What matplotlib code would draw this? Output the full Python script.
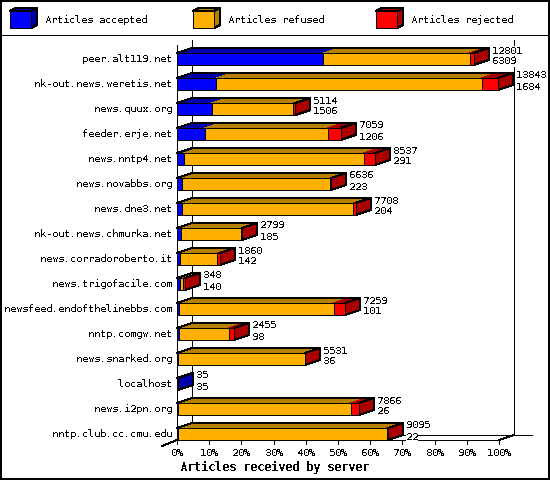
import matplotlib
matplotlib.use('Agg')
import matplotlib.pyplot as plt
from matplotlib.patches import Polygon, Rectangle

plt.rcParams['font.family'] = ['DejaVu Sans Mono']
plt.rcParams['text.antialiased'] = False
plt.rcParams['text.hinting'] = 'native'
plt.rcParams['text.hinting_factor'] = 1

servers = ['peer.alt119.net', 'nk-out.news.weretis.net', 'news.quux.org', 'feeder.erje.net',
           'news.nntp4.net', 'news.novabbs.org', 'news.dne3.net', 'nk-out.news.chmurka.net',
           'news.corradoroberto.it', 'news.trigofacile.com', 'newsfeed.endofthelinebbs.com',
           'nntp.comgw.net', 'news.snarked.org', 'localhost', 'news.i2pn.org', 'nntp.club.cc.cmu.edu']
totals = [12801, 13843, 5114, 7059, 8537, 6636, 7708, 2799, 1860, 348, 7259, 2455, 5531, 35, 7866, 9095]
accepted = [6309, 1684, 1506, 1206, 291, 223, 204, 185, 142, 140, 101, 98, 36, 35, 26, 22]
refused = [6322, 11469, 3518, 5307, 7773, 6393, 7404, 2594, 1588, 140, 6668, 2142, 5480, 0, 7475, 9043]
rejected = [170, 690, 90, 546, 473, 20, 100, 20, 130, 68, 490, 215, 15, 0, 365, 30]
percent_ticks = list(range(0, 101, 10))
# the 100% mark sits a little past the biggest bar
percent_base = 13900

W, H = 550, 480
# pixel layout of the plot box
LEFT, RIGHT, TOP, BOTTOM = 177, 499, 35, 440
ROW = 25
BAR_H = 12
DX_PX, DY_PX = 15, 5
FS = 7.2

fig = plt.figure(figsize=(W / 100, H / 100), dpi=100)

# overlay in pixels for frame and legend
ov = fig.add_axes([0, 0, 1, 1], zorder=5)
ov.set_xlim(0, W)
ov.set_ylim(H, 0)
ov.axis('off')
ov.patch.set_alpha(0)

ax = fig.add_axes([LEFT / W, 1 - BOTTOM / H, (RIGHT - LEFT) / W, (BOTTOM - TOP) / H], zorder=2)
ax.axis('off')
ax.set_xlim(0, 100)
ax.set_ylim(15 + (BOTTOM - 434) / ROW, (TOP - 59) / ROW)

dx = DX_PX * 100 / (RIGHT - LEFT)
dy = DY_PX / ROW
h = BAR_H / ROW
px_x = 100 / (RIGHT - LEFT)
px_y = 1 / ROW
line = dict(color='black', lw=0.72, antialiased=False, clip_on=False)
floor_y = ax.get_ylim()[0]
top_y = ax.get_ylim()[1] + 5 * px_y

# walls and floor
ax.plot([0, 0], [top_y + 5 * px_y, floor_y + 4 * px_y], zorder=1, **line)
ax.plot([dx, dx], [top_y, floor_y - dy], zorder=1, **line)
ax.plot([100 + dx, 100 + dx], [top_y, floor_y - dy], zorder=1, **line)
ax.plot([0, 100], [floor_y, floor_y], zorder=1, **line)
ax.plot([dx, 100 + dx + 18 * px_x], [floor_y - dy, floor_y - dy], zorder=1, **line)
ax.plot([0, -dx], [floor_y, floor_y + 6 * px_y], zorder=1, **line)
ax.plot([100, 100 + dx], [floor_y, floor_y - dy], zorder=1, **line)
for p in percent_ticks:
    ax.plot([p, p], [floor_y, floor_y + 4 * px_y], zorder=1, **line)
    ax.text(p, floor_y + 13 * px_y, f'{p}%', ha='center', va='center', fontsize=FS, zorder=4)

colors = [('#0000ff', '#0000aa'), ('#ffb000', '#b88000'), ('#ff0000', '#aa0000')]
edge = dict(edgecolor='black', linewidth=0.72, antialiased=False, clip_on=False)
fill = dict(edgecolor='none', antialiased=False, clip_on=False)

for i, name in enumerate(servers):
    left = 0
    y0, y1 = i - h / 2, i + h / 2
    bar_end = totals[i] / percent_base * 100
    last = None
    # top faces first, without lines between the segments
    for vals, (front, dark) in zip((accepted, refused, rejected), colors):
        v = vals[i] / percent_base * 100
        if v == 0:
            continue
        ax.add_patch(Polygon([(left, y0), (left + dx, y0 - dy), (left + v + dx, y0 - dy), (left + v, y0)],
                             facecolor=dark, zorder=2, **fill))
        left += v
        last = dark
    ax.add_patch(Polygon([(bar_end, y0), (bar_end + dx, y0 - dy), (bar_end + dx, y1 - dy), (bar_end, y1)],
                         facecolor=last, zorder=2, **edge))
    ax.plot([0, dx, bar_end + dx], [y0, y0 - dy, y0 - dy], zorder=2, **line)
    left = 0
    for vals, (front, dark) in zip((accepted, refused, rejected), colors):
        v = vals[i] / percent_base * 100
        if v == 0:
            continue
        ax.barh(i, v, height=h, left=left, color=front, zorder=2, **edge)
        left += v
    end = bar_end + dx + 3 * px_x
    box = dict(facecolor='white', edgecolor='none', pad=0)
    ax.text(end, i - 8.5 * px_y, str(totals[i]), ha='left', va='center', fontsize=FS, zorder=4, bbox=box)
    ax.text(end, i + 2.5 * px_y, str(accepted[i]), ha='left', va='center', fontsize=FS, zorder=4, bbox=box)
    ax.text(-5 * px_x, i, name, ha='right', va='center', fontsize=FS, zorder=4)

# frame and legend divider
ov.add_patch(Rectangle((0.5, 0.5), W - 2, H - 2, facecolor='none', edgecolor='black', linewidth=1.44,
                       antialiased=False, clip_on=False))
ov.plot([0, W], [35, 35], **line)

legend_names = ['Articles accepted', 'Articles refused', 'Articles rejected']
legend_x = [10, 193, 376]
for lx, label, (front, dark) in zip(legend_x, legend_names, colors):
    ov.add_patch(Polygon([(lx + 21, 11), (lx + 27, 8), (lx + 27, 25), (lx + 21, 28)], facecolor=dark, **edge))
    ov.add_patch(Polygon([(lx, 11), (lx + 6, 8), (lx + 27, 8), (lx + 21, 11)], facecolor=dark, **edge))
    ov.add_patch(Rectangle((lx, 11), 21, 17, facecolor=front, **edge))
    ov.text(lx + 35, 20, label, ha='left', va='center', fontsize=FS)

ov.text(180, 467, 'Articles received by server', ha='left', va='center', fontsize=8.6, fontweight='bold')

fig.savefig('out.png', dpi=100, facecolor='white')
